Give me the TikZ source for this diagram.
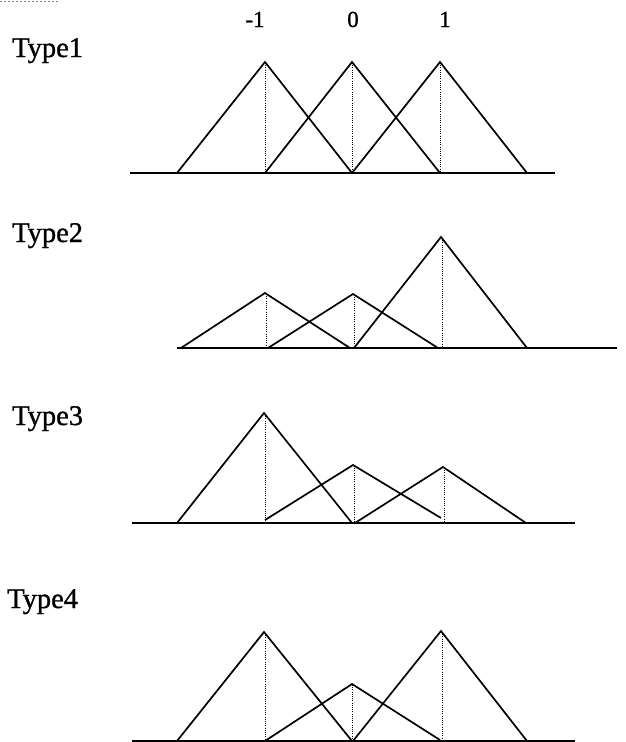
\documentclass[tikz,border=0pt]{standalone}
\usepackage{fontspec}
\newfontfamily\lblfont{Liberation Serif}[FakeBold=1]
\begin{document}
\begin{tikzpicture}[x=1pt,y=-1pt,
  mf/.style={line width=1.7pt,line join=miter},
  guide/.style={line width=0.8pt,dash pattern=on 1pt off 1.2pt},
  axis/.style={line width=2.2pt},
  typelbl/.style={anchor=base west,inner sep=0pt,font=\lblfont\fontsize{28.5}{33}\selectfont},
  numlbl/.style={anchor=base,inner sep=0pt,font=\lblfont\fontsize{23}{27}\selectfont}]
\useasboundingbox (0,0) rectangle (625,742);
\fill[white] (0,0) rectangle (625,742);
% scan artifact top-left
\draw[gray,line width=0.8pt,dash pattern=on 2pt off 2pt] (0,1) -- (60,1);
% axis labels
\node[numlbl] (m1) at (255,27) {-1};
\node[numlbl] (z0) at (353,27) {0};
\node[numlbl] (p1) at (445,27) {1};
% ---------- Type1 ----------
\node[typelbl] (t1) at (12,57) {Type1};
\draw[axis] (130,173) -- (555,173);
\draw[mf] (177,173) -- (265,62) -- (352,173);
\draw[mf] (265,173) -- (352,62) -- (440,173);
\draw[mf] (352,173) -- (440,62) -- (527,173);
\draw[guide] (265,63) -- (265,172);
\draw[guide] (352,63) -- (352,172);
\draw[guide] (440,63) -- (440,172);
% ---------- Type2 ----------
\node[typelbl] (t2) at (12,242) {Type2};
\draw[axis] (177,348) -- (617,348);
\draw[mf] (181,348) -- (265,293) -- (350,348);
\draw[mf] (268,348) -- (353,294) -- (438,348);
\draw[mf] (354,348) -- (441,237) -- (527,348);
\draw[guide] (266,294) -- (266,347);
\draw[guide] (354,295) -- (354,347);
\draw[guide] (442,238) -- (442,347);
% ---------- Type3 ----------
\node[typelbl] (t3) at (12,425) {Type3};
\draw[axis] (132,523) -- (575,523);
\draw[mf] (177,523) -- (264,413) -- (352,523);
\draw[mf] (265,520) -- (353,465) -- (441,518);
\draw[mf] (355,523) -- (443,467) -- (526,523);
\draw[guide] (265,414) -- (265,522);
\draw[guide] (354,466) -- (354,522);
\draw[guide] (444,468) -- (444,522);
% ---------- Type4 ----------
\node[typelbl] (t4) at (7,608) {Type4};
\draw[axis] (132,741) -- (575,741);
\draw[mf] (177,741) -- (264,632) -- (352,741);
\draw[mf] (265,741) -- (352,684) -- (440,740);
\draw[mf] (353,741) -- (441,631) -- (527,741);
\draw[guide] (265,633) -- (265,740);
\draw[guide] (352,685) -- (352,740);
\draw[guide] (442,632) -- (442,740);
\end{tikzpicture}
\end{document}
